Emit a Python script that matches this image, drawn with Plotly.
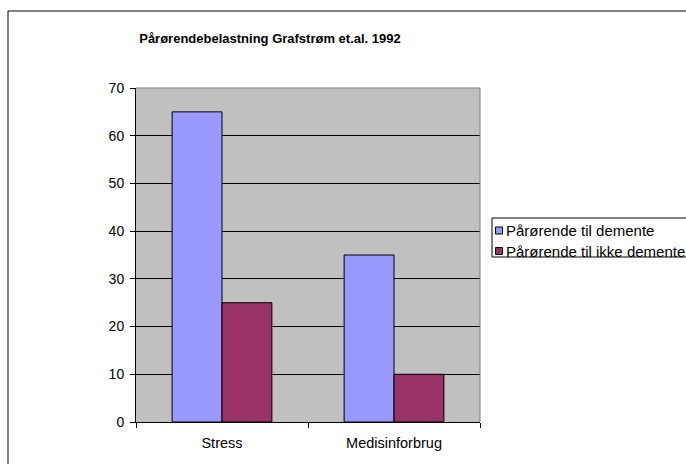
import plotly.graph_objects as go

categories = ["Stress", "Medisinforbrug"]
series_names = ["Pårørende til demente", "Pårørende til ikke demente"]
demente = [65, 35]
ikke_demente = [25, 10]
series_colors = ["#9999FF", "#993366"]
y_ticks = [0, 10, 20, 30, 40, 50, 60, 70]
title_text = "Pårørendebelastning Grafstrøm et.al. 1992"

W, H = 686, 464
L, R, T, B = 136, 480, 88, 422

fig = go.Figure()
for name, vals, col in zip(series_names, [demente, ikke_demente], series_colors):
    fig.add_trace(go.Bar(x=categories, y=vals, name=name,
                         marker=dict(color=col, line=dict(color="black", width=1))))

pw, ph = R - L, B - T
def px_x(x):
    return (x - L) / pw
def px_y(y):
    return (B - y) / ph

shapes = [
    dict(type="rect", xref="paper", yref="paper", x0=px_x(8), x1=px_x(720),
         y0=px_y(500), y1=px_y(11), line=dict(color="black", width=1), layer="below"),
    dict(type="line", xref="paper", yref="paper", x0=0, x1=1, y0=1, y1=1,
         line=dict(color="#808080", width=1)),
    dict(type="line", xref="paper", yref="paper", x0=1, x1=1, y0=0, y1=1,
         line=dict(color="#808080", width=1)),
    # legend box
    dict(type="rect", xref="paper", yref="paper", x0=px_x(492), x1=px_x(720),
         y0=px_y(257), y1=px_y(218), line=dict(color="black", width=1),
         fillcolor="white", layer="above"),
]
annotations = []
legend_y = [230.5, 251]
for name, col, yc in zip(series_names, series_colors, legend_y):
    shapes.append(dict(type="rect", xref="paper", yref="paper",
                       x0=px_x(495.5), x1=px_x(502.5), y0=px_y(yc + 3.5), y1=px_y(yc - 3.5),
                       fillcolor=col, line=dict(color="black", width=1), layer="above"))
    annotations.append(dict(text=name, xref="paper", yref="paper", x=px_x(504), y=px_y(yc),
                            xanchor="left", yanchor="middle", showarrow=False,
                            font=dict(size=15, color="black")))

fig.update_layout(
    width=W, height=H,
    margin=dict(l=L, r=W - R, t=T, b=H - B, autoexpand=False),
    paper_bgcolor="white",
    plot_bgcolor="#C0C0C0",
    font=dict(family="Liberation Sans, Arial, sans-serif", size=14, color="black"),
    barmode="group", bargap=0.42, bargroupgap=0,
    title=dict(text="<b>" + title_text + "</b>", x=270 / W, xref="container", xanchor="center",
               y=1 - 38 / H, yref="container", yanchor="middle",
               font=dict(size=13, color="black")),
    showlegend=False,
    xaxis=dict(showgrid=False, showline=True, linecolor="black", linewidth=1,
               ticks="outside", ticklen=5, tickcolor="black", tickson="boundaries",
               tickfont=dict(size=14.5), ticklabelstandoff=8),
    yaxis=dict(range=[0, 70], tickvals=y_ticks, showgrid=True, gridcolor="black", gridwidth=1,
               showline=True, linecolor="black", linewidth=1, zeroline=False,
               ticks="outside", ticklen=5, tickcolor="black", tickfont=dict(size=14),
               ticklabelstandoff=3),
    shapes=shapes,
    annotations=annotations,
)

fig.write_html("out.html", config={"displayModeBar": False},
               post_script="document.body.style.margin='0';document.body.style.overflow='hidden';")
